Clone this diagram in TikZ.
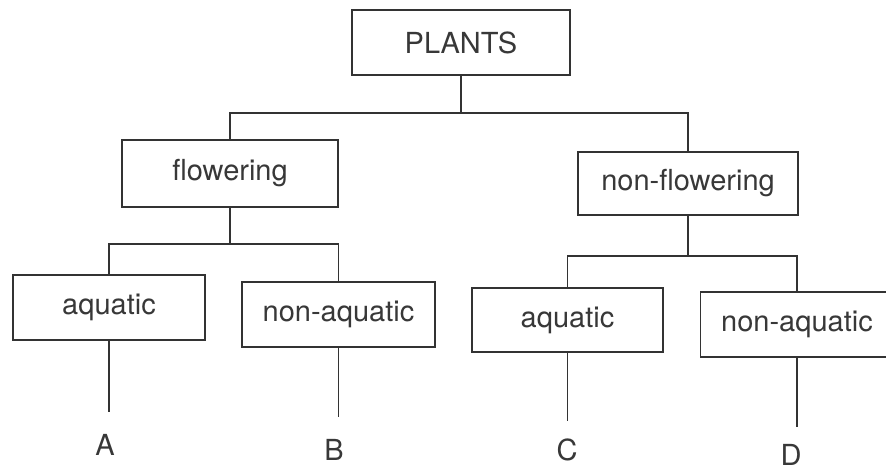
\documentclass[tikz,border=0pt]{standalone}
\usepackage{fontspec}
\setmainfont{TeX Gyre Heros}
\usetikzlibrary{calc}
\begin{document}
\begin{tikzpicture}[x=1pt,y=-1pt,
  ink/.style={draw=black!80, line width=1.8pt},
  box/.style={ink, fill=white, rectangle, inner sep=0pt, text=black!78,
    font=\fontsize{29}{34}\selectfont},
  leaf/.style={text=black!78, inner sep=0pt, font=\fontsize{29}{34}\selectfont},
  link/.style={ink, line cap=butt}]
\useasboundingbox (0,0) rectangle (886,475);
\fill[white] (0,0) rectangle (886,475);

% class boxes
\node[box, minimum width=218pt, minimum height=65pt] (plants) at (461,42.5) {PLANTS};
\node[box, minimum width=216pt, minimum height=67pt] (flw)    at (230,173.5) {flowering};
\node[box, minimum width=220pt, minimum height=63pt] (nfl)    at (688,183.5) {non-flowering};
\node[box, minimum width=192pt, minimum height=65pt] (aqA)    at (109,307.5) {aquatic};
\node[box, minimum width=193pt, minimum height=65pt] (naqB)   at (338.5,314.5) {non-aquatic};
\node[box, minimum width=191pt, minimum height=64pt] (aqC)    at (567.5,320) {aquatic};
\node[box, minimum width=193pt, minimum height=65pt] (naqD)   at (797,324.5) {non-aquatic};

% end labels
\node[leaf] (A) at (105,445) {A};
\node[leaf] (B) at (334,450) {B};
\node[leaf] (C) at (567,450) {C};
\node[leaf] (D) at (791,455) {D};

% branching joints
\coordinate (j0) at ($(plants.south)+(0,37)$);
\coordinate (j1) at ($(flw.south)+(0,36)$);
\coordinate (j2) at ($(nfl.south)+(0,40)$);

% tree connectors
\draw[link] (plants.south) -- (j0);
\draw[link] (flw.north) |- (j0) -| (nfl.north);
\draw[link] (flw.south) -- (j1);
\draw[link] (aqA.north) |- (j1) -| (naqB.north);
\draw[link] (nfl.south) -- (j2);
\draw[link] (aqC.north) |- (j2) -| (naqD.north);

% leaf stems
\draw[link, shorten >=22pt] (aqA.south)  -- (aqA.south  |- A.north);
\draw[link, shorten >=22pt] (naqB.south) -- (naqB.south |- B.north);
\draw[link, shorten >=18pt] (aqC.south)  -- (aqC.south  |- C.north);
\draw[link, shorten >=17pt] (naqD.south) -- (naqD.south |- D.north);
\end{tikzpicture}
\end{document}
